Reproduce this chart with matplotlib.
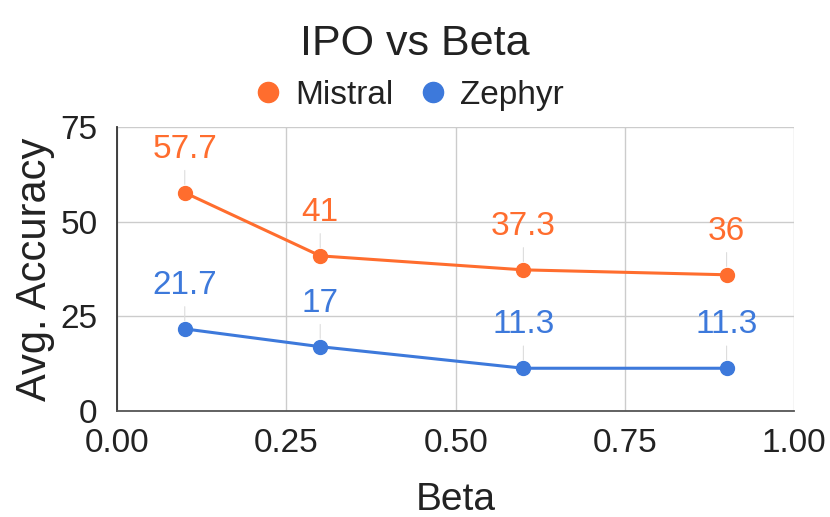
import matplotlib.pyplot as plt

plt.rcParams['font.family'] = ['Liberation Sans', 'DejaVu Sans']

beta = [0.1, 0.3, 0.6, 0.9]
mistral = [57.7, 41, 37.3, 36]
zephyr = [21.7, 17, 11.3, 11.3]
mistral_labels = ['57.7', '41', '37.3', '36']
zephyr_labels = ['21.7', '17', '11.3', '11.3']

orange = '#ff6d2e'
blue = '#3d79db'

fig = plt.figure(figsize=(8.3, 5.17), dpi=100)
ax = fig.add_axes([0.141, 0.205, 0.816, 0.549])

ax.plot(beta, mistral, color=orange, lw=2.2, marker='o', ms=10, label='Mistral', zorder=3)
ax.plot(beta, zephyr, color=blue, lw=2.2, marker='o', ms=10, label='Zephyr', zorder=3)

for xs, ys, labs, c in [(beta, mistral, mistral_labels, orange), (beta, zephyr, zephyr_labels, blue)]:
    for x, y, t in zip(xs, ys, labs):
        ax.annotate(t, xy=(x, y), xytext=(0, 20), textcoords='offset points',
                    ha='center', va='bottom', fontsize=24, color=c,
                    arrowprops=dict(arrowstyle='-', color='#dddddd', lw=0.8, shrinkA=2, shrinkB=6))

ax.set_xlim(0, 1)
ax.set_ylim(0, 75)
ax.set_xticks([0, 0.25, 0.5, 0.75, 1.0])
ax.set_xticklabels(['0.00', '0.25', '0.50', '0.75', '1.00'])
ax.set_yticks([0, 25, 50, 75])
ax.tick_params(labelsize=24, length=0, colors='#222222')
ax.tick_params(axis='x', pad=12)
ax.tick_params(axis='y', pad=14)
ax.grid(True, color='#cccccc', lw=1)
ax.set_axisbelow(True)
for s in ['top', 'right']:
    ax.spines[s].set_visible(False)
ax.spines['left'].set_color('#333333')
ax.spines['bottom'].set_color('#555555')
ax.spines['left'].set_linewidth(1.3)
ax.spines['bottom'].set_linewidth(1.3)

ax.set_xlabel('Beta', fontsize=28, color='#222222', labelpad=17)
ax.set_ylabel('Avg. Accuracy', fontsize=30, color='#222222', labelpad=4)

fig.text(0.5, 0.915, 'IPO vs Beta', ha='center', va='center', fontsize=31, color='#222222')
fig.legend(loc='center', bbox_to_anchor=(0.495, 0.815), ncol=2, frameon=False, fontsize=24,
           handlelength=0.6, handletextpad=0.5, columnspacing=0.9,
           markerscale=1.45, labelcolor='#222222', borderpad=0)
leg = fig.legends[0]
for h in leg.legend_handles:
    h.set_linestyle('none')

fig.savefig('out.png', dpi=100)
